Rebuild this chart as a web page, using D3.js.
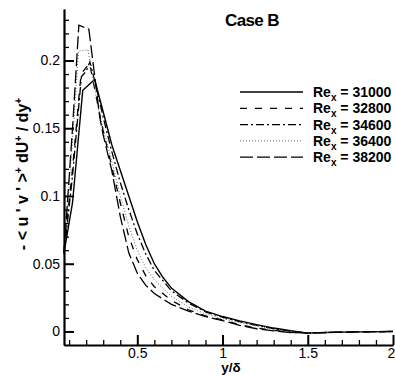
<!DOCTYPE html>
<html><head><meta charset="utf-8">
<script src="https://cdn.jsdelivr.net/npm/d3@7"></script>
<style>
html,body{margin:0;padding:0;background:#fff;}
svg{display:block;font-family:"Liberation Sans",Arial,Helvetica,sans-serif;}
</style></head>
<body><svg id="c" width="395" height="375"></svg>
<script>
const seriesNames = ["31000","32800","34600","36400","38200"];
const x31000 = [0.07,0.12,0.18,0.25,0.30,0.35,0.40,0.45,0.50,0.55,0.60,0.65,0.70,0.80,0.90,1.00,1.10,1.20,1.30,1.40,1.50,1.60,1.80,2.00];
const y31000 = [0.058,0.095,0.178,0.186,0.162,0.138,0.119,0.100,0.081,0.064,0.050,0.040,0.032,0.022,0.015,0.011,0.0078,0.005,0.0025,0.0005,-0.0012,-0.0008,-0.0003,0.0];
const x32800 = [0.07,0.12,0.17,0.22,0.28,0.30,0.35,0.40,0.45,0.50,0.55,0.60,0.70,0.80,0.90,1.00,1.10,1.20,1.30,1.40,1.50,1.60,1.80,2.00];
const y32800 = [0.060,0.120,0.190,0.198,0.160,0.148,0.122,0.095,0.070,0.053,0.041,0.033,0.023,0.016,0.0115,0.0085,0.005,0.0025,0.0008,-0.0006,-0.0012,-0.0008,-0.0003,0.0];
const x34600 = [0.07,0.12,0.172,0.20,0.222,0.26,0.30,0.35,0.40,0.45,0.50,0.55,0.60,0.70,0.80,0.90,1.00,1.10,1.20,1.30,1.40,1.50,1.60,1.80,2.00];
const y34600 = [0.057,0.115,0.188,0.192,0.199,0.180,0.158,0.133,0.110,0.090,0.072,0.057,0.045,0.030,0.021,0.0145,0.0105,0.0072,0.0045,0.002,0.0002,-0.0012,-0.0008,-0.0003,0.0];
const x36400 = [0.07,0.12,0.155,0.21,0.27,0.30,0.35,0.40,0.45,0.50,0.55,0.60,0.70,0.80,0.90,1.00,1.10,1.20,1.30,1.40,1.50,1.60,1.80,2.00];
const y36400 = [0.062,0.140,0.207,0.208,0.165,0.150,0.126,0.100,0.078,0.060,0.047,0.038,0.026,0.018,0.013,0.0095,0.0065,0.004,0.0015,0.0,-0.0012,-0.0008,-0.0003,0.0];
const x38200 = [0.07,0.12,0.157,0.216,0.28,0.30,0.35,0.40,0.45,0.50,0.55,0.60,0.70,0.80,0.90,1.00,1.10,1.20,1.30,1.40,1.50,1.60,1.80,2.00];
const y38200 = [0.058,0.150,0.226,0.223,0.158,0.145,0.119,0.085,0.058,0.043,0.034,0.028,0.020,0.015,0.011,0.008,0.0045,0.002,0.0005,-0.0008,-0.0012,-0.0008,-0.0003,0.0];
const xMajorTicks = [0.5,1,1.5,2];
const xTickLabels = ["0.5","1","1.5","2"];
const yMajorTicks = [0,0.05,0.1,0.15,0.2];
const yTickLabels = ["0","0.05","0.1","0.15","0.2"];
const xs = [x31000,x32800,x34600,x36400,x38200];
const ys = [y31000,y32800,y34600,y36400,y38200];
const dashes = [null,"7,8","8,3,2,3","1,2","13,4"];
const colors = ["#000","#000","#000","#666","#000"];
const widths = [1.4,1.3,1.3,1.0,1.3];

const svg = d3.select("#c");
const x = d3.scaleLinear().domain([0.07,2]).range([64,393]);
const y = d3.scaleLinear().domain([-0.01,0.238]).range([345,9]);

// curves
const line = d3.line().x(d=>x(d[0])).y(d=>y(d[1]));
xs.forEach((xa,i)=>{
  const pts = xa.map((v,j)=>[v,ys[i][j]]);
  svg.append("path").attr("d",line(pts)).attr("fill","none")
    .attr("stroke",colors[i]).attr("stroke-width",widths[i])
    .attr("stroke-dasharray",dashes[i]);
});

// axes
const yMinor = d3.range(1,24).map(k=>k/100).filter(v=>!yMajorTicks.some(m=>Math.abs(m-v)<1e-9));
const xMinor = d3.range(1,20).map(k=>k/10).filter(v=>!xMajorTicks.some(m=>Math.abs(m-v)<1e-9));
const gy = svg.append("g").attr("transform","translate(64,0)");
gy.call(d3.axisLeft(y).tickValues(yMinor).tickSize(-5).tickSizeOuter(0).tickFormat(""));
gy.call(g=>g.selectAll(".tick line").attr("stroke-width",1.3));
const gy2 = svg.append("g").attr("transform","translate(64,0)");
gy2.call(d3.axisLeft(y).tickValues(yMajorTicks).tickSize(-10).tickSizeOuter(0).tickPadding(4)
  .tickFormat((d,i)=>yTickLabels[i]));
gy2.select(".domain").attr("stroke-width",2.2);
gy2.selectAll(".tick line").attr("stroke-width",2);
gy2.selectAll("text").attr("font-size",14).attr("font-family","Liberation Sans, Arial, sans-serif").attr("fill","#000");

const gx = svg.append("g").attr("transform","translate(0,345)");
gx.call(d3.axisBottom(x).tickValues(xMinor).tickSize(-5).tickSizeOuter(0).tickFormat(""));
gx.call(g=>g.selectAll(".tick line").attr("stroke-width",1.3));
const gx2 = svg.append("g").attr("transform","translate(0,345)");
gx2.call(d3.axisBottom(x).tickValues(xMajorTicks).tickSize(-10).tickSizeOuter(0).tickPadding(3)
  .tickFormat((d,i)=>xTickLabels[i]));
gx2.select(".domain").attr("stroke-width",2.2);
gx2.selectAll(".tick line").attr("stroke-width",2);
gx2.selectAll("text").attr("font-size",14).attr("font-family","Liberation Sans, Arial, sans-serif").attr("fill","#000");
gx2.selectAll("text").filter(d=>d===2).attr("dx",-2);

// title
svg.append("text").attr("x",252).attr("y",26).attr("text-anchor","middle")
  .attr("font-size",17).attr("font-weight","bold").attr("letter-spacing",-0.6).text("Case B");

// x label
svg.append("text").attr("x",231).attr("y",372).attr("text-anchor","middle")
  .attr("font-size",13.5).attr("font-weight","bold").text("y/δ");

// y label
const yl = svg.append("text").attr("transform","translate(28,174) rotate(-90)")
  .attr("text-anchor","middle").attr("font-size",16).attr("font-weight","bold");
yl.append("tspan").text("- < u ' v ' >");
yl.append("tspan").attr("dy",-6).attr("font-size",10).text("+");
yl.append("tspan").attr("dy",6).text(" dU");
yl.append("tspan").attr("dy",-6).attr("font-size",10).text("+");
yl.append("tspan").attr("dy",6).text(" / dy");
yl.append("tspan").attr("dy",-6).attr("font-size",10).text("+");

// legend
seriesNames.forEach((nm,i)=>{
  const ly = 92 + i*16.3;
  svg.append("line").attr("x1",240).attr("x2",303).attr("y1",ly).attr("y2",ly)
    .attr("stroke",colors[i]).attr("stroke-width",widths[i]).attr("stroke-dasharray",dashes[i]);
  const t = svg.append("text").attr("x",313).attr("y",ly+5).attr("font-size",14).attr("font-weight","bold");
  t.append("tspan").text("Re");
  t.append("tspan").attr("dy",4).attr("font-size",10).text("x");
  t.append("tspan").attr("dy",-4).text(" = " + nm);
});
</script></body></html>
